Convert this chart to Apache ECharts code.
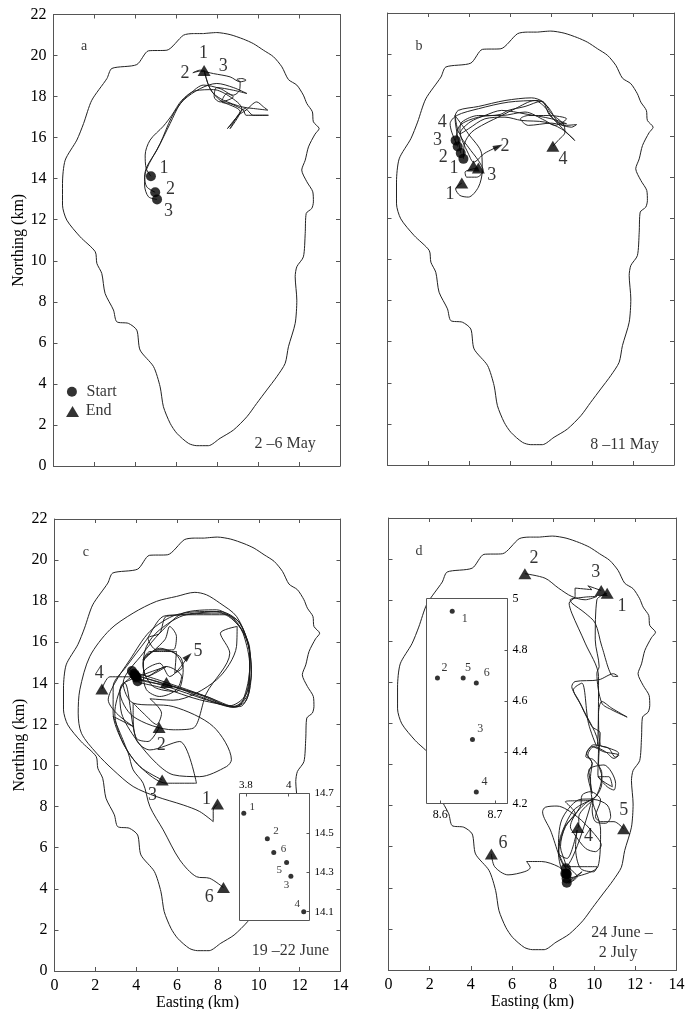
<!DOCTYPE html>
<html><head><meta charset="utf-8">
<style>html,body{margin:0;padding:0;background:#fff}#c{width:686px;height:1009px}</style>
<script src="https://cdn.jsdelivr.net/npm/echarts@6/dist/echarts.min.js"></script>
</head><body><div id="c"></div>
<script>
const outline=[[7.33,21.07],[7.98,21.12],[8.63,21.02],[9.28,20.80],[9.77,20.58],[10.26,20.26],[10.75,19.94],[11.16,19.45],[11.48,18.83],[11.89,18.56],[12.21,18.07],[12.38,17.66],[12.65,17.26],[12.70,16.77],[12.98,16.44],[12.78,16.17],[12.46,15.55],[12.30,14.90],[12.13,14.42],[12.38,13.85],[12.67,13.36],[12.70,12.87],[12.62,12.55],[12.35,12.31],[12.30,11.33],[12.21,10.19],[11.89,9.71],[11.81,9.22],[11.89,8.08],[11.81,6.95],[11.48,5.81],[11.32,5.0],[10.91,4.35],[10.42,3.70],[9.93,3.05],[9.45,2.40],[8.79,1.75],[8.14,1.35],[7.57,0.99],[7.0,0.99],[6.60,1.10],[6.03,1.59],[5.70,2.08],[5.37,2.89],[5.21,3.86],[4.89,4.84],[4.23,5.65],[4.07,6.62],[3.66,6.95],[3.09,7.03],[2.93,7.60],[2.52,8.41],[2.36,9.38],[2.12,9.87],[2.04,10.44],[1.30,11.17],[0.65,11.98],[0.44,12.71],[0.44,13.77],[0.57,14.90],[1.14,15.88],[1.47,16.69],[1.87,17.82],[2.61,18.88],[2.85,19.37],[4.07,19.56],[4.64,20.23],[5.54,20.26],[6.35,20.99],[6.84,21.07],[7.33,21.07]];

const a1=[[4.76,14.12],[4.53,14.50],[4.48,15.15],[4.72,15.88],[5.37,16.56],[5.78,17.09],[6.27,17.82],[6.92,18.28],[7.82,18.34],[8.63,17.99],[9.20,17.42],[8.79,16.77],[8.50,16.44],[9.04,17.09],[9.41,17.34],[9.93,17.74],[10.26,17.50],[10.47,17.34],[9.77,17.42],[9.20,17.50],[8.31,17.82],[7.82,18.15],[7.57,18.56],[7.36,19.27]];
const a2=[[4.97,13.34],[4.56,13.60],[4.45,14.09],[4.56,14.58],[5.05,15.39],[5.70,16.69],[6.19,17.66],[6.68,18.15],[7.33,18.56],[8.14,18.39],[8.79,18.07],[9.09,18.31],[9.12,18.72],[8.96,18.83],[9.20,18.88],[9.41,18.80],[9.12,18.72],[8.63,18.96],[7.82,19.12],[7.17,19.24],[6.81,19.16],[7.17,19.29],[7.36,19.27]];
const a3=[[5.06,12.99],[4.64,13.12],[4.45,13.69],[4.53,14.42],[5.21,15.71],[5.78,17.01],[6.35,17.82],[7.17,18.39],[7.98,18.64],[8.79,18.44],[9.45,18.15],[8.79,18.31],[7.98,18.44],[7.85,17.99],[8.14,17.74],[8.79,17.99],[8.47,18.15],[8.22,17.74],[8.63,17.66],[9.28,17.34],[9.41,17.09],[10.50,17.09],[9.77,17.09],[9.36,17.42],[8.63,16.44],[9.12,17.26],[8.14,17.82],[7.65,18.39],[7.36,19.27]];
const aStarts=[[4.76,14.12],[4.97,13.34],[5.06,12.99],[0.90,3.62]];
const aEnds=[[7.36,19.27],[0.93,2.65]];
const aLabels=[[1.5,20.45,"a",14],[7.33,20.13,"1",18],[8.3,19.5,"3",18],[6.43,19.12,"2",18],[5.4,14.53,"1",18],[5.72,13.49,"2",18],[5.62,12.39,"3",18],[2.35,3.6,"Start",16],[2.2,2.68,"End",16],[11.32,1.07,"2 –6 May",16]];

const b1=[[3.71,14.90],[3.76,15.63],[4.11,16.20],[4.76,16.61],[5.58,17.01],[6.23,17.34],[7.20,17.74],[7.69,17.42],[8.10,16.85],[9.15,15.80],[8.50,16.36],[7.69,16.69],[6.55,16.77],[5.74,16.93],[4.76,16.85],[3.95,16.36],[3.54,16.12],[3.30,17.01],[3.95,16.12],[4.60,15.15],[4.63,14.33],[4.44,13.52],[3.95,13.04],[3.54,13.12],[3.33,13.44],[3.63,13.72]];
const b2=[[3.58,15.18],[3.46,15.80],[3.30,16.93],[3.46,17.26],[4.44,17.45],[5.74,17.74],[7.04,17.87],[7.61,17.66],[7.93,17.01],[8.67,16.53],[9.24,16.57],[8.99,16.44],[8.02,16.64],[6.88,16.53],[6.50,16.85],[6.88,17.01],[7.85,17.01],[8.75,16.85],[8.18,16.53],[7.69,16.77],[6.72,17.18],[5.58,17.01],[4.44,17.01],[3.63,16.69],[3.54,16.28],[4.03,14.98],[4.20,14.74],[4.76,15.18],[5.41,15.50]];
const b3=[[3.43,15.50],[3.14,16.20],[3.06,16.61],[3.38,17.01],[4.44,17.34],[5.90,17.66],[7.37,17.74],[7.85,17.42],[8.34,16.69],[8.75,16.61],[8.02,16.85],[6.72,17.09],[5.58,17.26],[4.76,17.01],[4.03,16.69],[3.54,16.12],[3.95,15.47],[4.44,14.82],[4.68,14.33],[4.36,14.01],[3.87,14.01],[3.79,14.25],[4.20,14.42],[4.44,14.45]];
const b4=[[3.33,15.80],[3.54,16.53],[4.44,16.93],[5.50,17.06],[5.90,17.26],[6.72,17.45],[7.53,17.71],[8.02,17.09],[8.59,16.61],[8.67,16.20],[8.34,15.80],[8.08,15.52]];
const bStarts=[[3.33,15.80],[3.43,15.50],[3.58,15.18],[3.71,14.90]];
const bEnds=[[3.63,13.72],[4.44,14.45],[4.20,14.55],[8.08,15.52]];
const bArrows=[[5.41,15.50,-65]];
const bLabels=[[1.54,20.39,"b",14],[2.67,16.66,"4",18],[2.44,15.80,"3",18],[2.73,14.98,"2",18],[3.25,14.42,"1",18],[3.06,13.17,"1",18],[5.74,15.50,"2",18],[5.09,14.09,"3",18],[8.57,14.90,"4",18],[11.59,0.99,"8 –11 May",16]];

const c1=[[3.72,14.66],[4.18,14.17],[5.81,13.85],[7.11,13.36],[8.58,12.91],[9.31,13.36],[9.64,14.50],[9.48,15.96],[8.91,17.26],[8.09,17.91],[7.44,18.31],[6.87,18.43],[5.97,18.23],[4.99,17.99],[3.85,17.42],[2.71,16.61],[1.73,15.31],[1.24,13.69],[1.16,12.55],[1.32,11.57],[2.06,10.60],[2.87,9.79],[3.85,8.98],[4.99,8.49],[6.30,8.08],[7.11,7.76],[7.77,7.27],[7.77,7.84],[7.98,8.13]];
const c2=[[3.93,14.42],[5.48,13.93],[7.11,13.44],[8.74,12.87],[9.23,13.20],[9.56,14.82],[9.23,16.44],[8.74,17.09],[8.09,17.42],[6.46,17.34],[5.15,16.61],[4.50,15.80],[4.34,14.82],[4.83,13.85],[5.97,13.60],[6.30,14.66],[5.89,15.47],[5.15,15.63],[4.34,15.15],[4.50,14.33],[5.48,14.82],[3.36,14.01],[3.20,13.60],[3.85,12.39],[5.81,11.74],[6.79,11.82],[7.44,13.52],[8.58,15.47],[8.12,16.44],[8.94,16.77],[8.91,15.80],[7.93,14.17],[5.81,13.18],[4.67,13.25],[5.24,12.55],[5.0,12.0],[4.4,12.5],[3.85,13.04],[3.85,12.39],[4.01,11.33],[4.58,11.17],[5.12,11.85]];
const c3=[[4.01,14.25],[5.48,13.85],[7.44,13.20],[8.74,12.84],[9.48,13.52],[9.56,15.31],[9.07,16.93],[8.09,17.50],[6.13,17.34],[5.32,17.26],[4.50,16.12],[3.52,14.82],[2.87,13.85],[2.87,12.55],[3.36,11.09],[4.18,9.95],[5.27,9.30]];
const c4=[[4.11,14.04],[5.32,13.77],[7.11,13.20],[9.07,12.87],[9.56,13.85],[9.56,15.63],[8.99,16.85],[7.93,17.58],[6.30,17.42],[5.15,16.44],[4.34,15.47],[3.36,14.01],[3.85,13.04],[5.81,12.87],[7.77,11.90],[8.66,10.28],[8.42,9.95],[7.11,9.46],[5.81,9.55],[4.99,10.11],[4.01,11.25],[3.28,12.55],[3.20,13.60],[3.44,14.01],[4.01,11.25],[4.67,10.76],[6.13,11.17],[6.95,9.14],[5.48,9.14],[4.18,9.95],[3.36,11.09],[2.95,12.55],[3.28,13.85],[3.77,14.32],[2.71,14.32],[2.32,13.73]];
const c5=[[3.85,14.42],[5.32,14.01],[7.44,13.36],[8.91,12.84],[9.48,13.85],[9.56,15.47],[9.07,16.77],[8.42,17.34],[6.95,17.34],[5.48,17.26],[5.15,16.44],[4.58,16.20],[4.99,15.63],[5.81,15.63],[5.97,16.28],[5.64,16.77],[5.40,16.12],[4.34,15.15],[4.67,15.55],[5.97,15.55],[5.89,14.50],[6.30,14.82],[6.13,15.31],[5.15,15.71],[4.34,14.98],[4.50,14.33],[5.48,14.82],[6.22,14.33],[5.97,13.69],[5.15,13.36],[4.50,13.69],[4.34,14.50],[5.15,14.98],[5.64,14.33],[6.54,15.31]];
const c6=[[3.77,14.58],[5.48,14.04],[7.44,13.36],[8.74,12.84],[9.40,13.20],[9.64,14.66],[9.07,16.93],[7.77,17.50],[5.97,17.34],[4.67,16.53],[3.69,15.15],[2.95,14.01],[2.63,13.20],[3.03,12.55],[3.85,11.90],[2.87,12.39],[3.61,10.60],[3.85,9.79],[4.34,9.14],[4.67,8.00],[5.32,6.87],[6.13,5.41],[6.95,4.59],[7.60,4.51],[8.27,4.06]];
const cStarts=[[3.79,14.60],[3.90,14.47],[3.93,14.40],[3.99,14.35],[4.01,14.28],[4.07,14.10]];
const cEnds=[[7.98,8.13],[5.12,11.85],[5.27,9.30],[2.32,13.73],[5.48,14.04],[8.27,4.06]];
const cArrows=[[6.54,15.31,-45]];
const cLabels=[[1.53,20.39,"c",14],[7.44,8.38,"1",18],[5.22,11.0,"2",18],[4.8,8.54,"3",18],[2.19,14.5,"4",18],[7.03,15.55,"5",18],[7.57,3.59,"6",18],[11.55,0.99,"19 –22 June",16]];
const cInsetLabels=[[3.83,14.63,"1",11],[3.94,14.51,"2",11],[3.975,14.42,"6",11],[3.956,14.31,"5",11],[3.99,14.235,"3",11],[4.04,14.14,"4",11]];
const cInsetX=[3.8,4], cInsetY=[14.7,14.5,14.3,14.1];

const d1=[[8.622,4.95],[8.26,5.84],[8.42,7.31],[9.23,8.28],[9.97,8.36],[10.37,9.09],[10.37,9.58],[9.97,10.23],[9.59,10.39],[9.97,10.96],[10.70,10.80],[11.19,10.55],[11.03,10.36],[10.70,10.80],[10.29,10.96],[10.21,12.50],[10.37,13.07],[10.86,12.74],[11.60,12.31],[10.86,12.66],[10.37,12.99],[10.13,14.45],[10.24,14.77],[10.05,16.07],[10.13,18.02],[10.63,18.34]];
const d2=[[8.595,4.69],[8.42,4.87],[8.26,5.68],[8.58,6.98],[9.07,7.63],[8.60,8.19],[9.89,8.28],[10.37,9.42],[10.21,10.06],[10.29,11.53],[9.89,11.85],[9.23,13.15],[8.91,13.80],[9.07,14.04],[10.21,14.12],[10.94,14.42],[11.16,14.29],[10.94,14.29],[10.37,15.75],[10.05,16.88],[9.56,17.37],[8.91,17.86],[8.83,18.02],[9.56,18.15],[10.13,18.18],[9.56,18.02],[8.91,18.18],[8.26,18.59],[7.61,19.07],[6.63,19.29]];
const d3=[[8.659,4.45],[10.18,5.03],[10.31,6.81],[9.90,8.27],[9.82,9.41],[9.90,10.06],[9.62,10.54],[9.90,10.87],[10.47,10.62],[11.20,10.46],[10.96,10.30],[10.55,10.62],[9.98,10.87],[9.69,10.46],[9.90,10.06],[9.69,9.49],[9.90,8.60],[9.74,9.73],[10.47,9.98],[11.04,9.08],[10.96,8.76],[10.63,8.92],[10.18,9.41],[10.71,9.41],[10.88,8.92],[10.18,9.49],[10.21,10.88],[9.40,12.82],[8.99,13.64],[9.40,13.96],[9.72,12.01],[10.13,10.88],[10.21,14.29],[9.56,15.91],[8.91,17.37],[8.78,17.86],[9.07,18.18],[9.07,18.59],[9.89,18.51],[9.69,18.70],[10.34,18.47]];
const d4=[[8.666,4.245],[9.41,4.78],[8.76,4.22],[9.17,4.54],[8.68,5.03],[10.14,5.03],[9.98,4.78],[9.33,4.95],[9.09,6.00],[9.17,6.81],[8.68,5.43],[8.28,5.68],[8.36,6.49],[9.01,7.79],[9.90,8.30],[8.60,5.03],[7.87,6.81],[7.49,7.70],[7.62,7.92],[8.19,7.98],[9.17,7.46],[9.98,6.65],[10.34,6.08],[10.06,5.76],[9.58,5.92],[9.01,6.65],[8.84,6.97],[9.25,7.79],[9.98,8.30],[10.63,8.03],[10.80,7.46],[10.55,7.14],[10.06,7.22],[9.90,7.79],[9.95,8.27],[9.25,7.46],[9.25,6.97],[9.20,6.93]];
const d5=[[8.642,4.69],[8.60,5.19],[8.36,6.00],[8.60,6.97],[9.33,7.95],[9.41,8.51],[9.82,8.68],[10.31,8.27],[10.06,7.46],[10.31,7.22],[10.96,7.22],[11.43,6.87]];
const d6=[[8.666,4.67],[8.26,5.03],[7.44,5.28],[6.71,5.28],[6.89,4.98],[6.63,4.79],[5.81,4.63],[5.16,5.03],[5.00,5.65]];
const dStarts=[[8.622,4.95],[8.595,4.69],[8.642,4.69],[8.666,4.67],[8.659,4.45],[8.666,4.245]];
const dEnds=[[10.63,18.34],[10.34,18.47],[6.63,19.29],[9.20,6.93],[11.43,6.87],[5.00,5.65]];
const dLabels=[[1.48,20.37,"d",14],[7.07,20.03,"2",18],[10.08,19.37,"3",18],[11.35,17.69,"1",18],[11.43,7.76,"5",18],[9.72,6.53,"4",18],[5.57,6.17,"6",18],[11.35,1.79,"24 June –",16],[11.16,0.84,"2 July",16],[12.75,-0.7,"·",16]];
const dInsetLabels=[[8.645,4.92,"1",12],[8.608,4.73,"2",12],[8.651,4.73,"5",12],[8.685,4.71,"6",12],[8.673,4.49,"3",12],[8.681,4.285,"4",12]];
const dInsetX=[8.6,8.7], dInsetY=[5,4.8,4.6,4.4,4.2];

const FONT='"Liberation Serif"', INK='#000', FRAME='#555';
const grids=[],xAxes=[],yAxes=[],series=[];
function axisBase(extra){return Object.assign({type:'value',silent:true,splitLine:{show:false},
  axisLine:{onZero:false,show:true,lineStyle:{color:FRAME,width:1}},
  axisTick:{show:true,inside:true,length:4,lineStyle:{color:FRAME,width:1}},
  axisLabel:{show:false,fontFamily:FONT,fontSize:16,color:INK,margin:7}},extra);}

function panel(g,opt){
  const i=grids.length; grids.push(Object.assign({outerBoundsMode:'none'},g));
  xAxes.push(axisBase({gridIndex:i,position:'bottom',min:0,max:14,interval:2,
    name:opt.xName||'',nameLocation:'middle',nameGap:24,nameTextStyle:{fontFamily:FONT,fontSize:16,color:INK},
    axisLabel:{show:!!opt.xLabels,fontFamily:FONT,fontSize:16,color:INK,margin:7,hideOverlap:false,showMinLabel:true,showMaxLabel:true}}));
  xAxes.push(axisBase({gridIndex:i,position:'top',min:0,max:14,interval:2}));
  yAxes.push(axisBase({gridIndex:i,position:'left',min:0,max:22,interval:2,
    name:opt.yName||'',nameLocation:'middle',nameGap:26,nameTextStyle:{fontFamily:FONT,fontSize:16,color:INK},
    axisLabel:{show:!!opt.yLabels,fontFamily:FONT,fontSize:16,color:INK,margin:7,hideOverlap:false,showMinLabel:true,showMaxLabel:true}}));
  yAxes.push(axisBase({gridIndex:i,position:'right',min:0,max:22,interval:2}));
  const xi=xAxes.length-2, yi=yAxes.length-2;
  const line=(d,w)=>series.push({type:'line',xAxisIndex:xi,yAxisIndex:yi,data:d,showSymbol:false,symbol:'none',smooth:0.3,silent:true,clip:false,lineStyle:{color:'#1a1a1a',width:w},z:2});
  series.push({type:'line',xAxisIndex:xi,yAxisIndex:yi,data:outline,showSymbol:false,symbol:'none',smooth:0.25,silent:true,lineStyle:{color:'#222',width:1},z:1});
  opt.tracks.forEach(t=>line(t,0.95));
  series.push({type:'scatter',xAxisIndex:xi,yAxisIndex:yi,data:opt.starts,symbol:'circle',symbolSize:10,silent:true,itemStyle:{color:'#000'},z:4});
  series.push({type:'scatter',xAxisIndex:xi,yAxisIndex:yi,data:opt.ends,symbol:'triangle',symbolSize:[13,11],silent:true,itemStyle:{color:'#000'},z:4});
  if(opt.arrows)series.push({type:'scatter',xAxisIndex:xi,yAxisIndex:yi,silent:true,symbol:'triangle',symbolSize:[6,10],itemStyle:{color:'#000'},z:4,
    data:opt.arrows.map(a=>({value:[a[0],a[1]],symbolRotate:a[2]}))});
  series.push(labelSeries(opt.labels,xi,yi,5));
}
function labelSeries(list,xi,yi,z){
  return {type:'scatter',xAxisIndex:xi,yAxisIndex:yi,silent:true,symbolSize:1,clip:false,itemStyle:{color:'rgba(0,0,0,0)'},z:z,
    data:list.map(l=>({value:[l[0],l[1]],label:{show:true,position:'inside',formatter:l[2],fontFamily:FONT,fontSize:l[3],color:INK,textBorderWidth:0,textBorderColor:'transparent'}}))};
}
function inset(g,o){
  const i=grids.length;
  grids.push(Object.assign({outerBoundsMode:'none',show:true,backgroundColor:'#fff',borderColor:FRAME,borderWidth:1,z:10},g));
  const tick=(v)=>({show:true,inside:true,length:3,customValues:v,lineStyle:{color:FRAME}});
  const lab=(v,size,m)=>({show:true,customValues:v,fontFamily:FONT,fontSize:size,color:INK,margin:m,formatter:x=>String(x)});
  xAxes.push(axisBase({gridIndex:i,position:o.xPos,min:o.xMin,max:o.xMax,z:11,axisLine:{show:false,onZero:false},axisTick:tick(o.xVals),axisLabel:lab(o.xVals,o.size,o.xPos==='top'?3:5)}));
  yAxes.push(axisBase({gridIndex:i,position:'right',min:o.yMin,max:o.yMax,z:11,axisLine:{show:false,onZero:false},axisTick:tick(o.yVals),axisLabel:lab(o.yVals,o.size,5)}));
  const xi=xAxes.length-1, yi=yAxes.length-1;
  series.push({type:'scatter',xAxisIndex:xi,yAxisIndex:yi,data:o.points,symbol:'circle',symbolSize:5,silent:true,itemStyle:{color:'#000'},z:12});
  series.push(labelSeries(o.labels,xi,yi,13));
}

panel({left:53.5,top:14.5,width:286.5,height:451.5},{yName:'Northing (km)',yLabels:true,tracks:[a1,a2,a3],starts:aStarts,ends:aEnds,labels:aLabels});
panel({left:387.5,top:13,width:286.5,height:452},{tracks:[b1,b2,b3,b4],starts:bStarts,ends:bEnds,arrows:bArrows,labels:bLabels});
panel({left:54.5,top:519,width:286,height:452},{yName:'Northing (km)',yLabels:true,xLabels:true,xName:'Easting (km)',tracks:[c1,c2,c3,c4,c5,c6],starts:cStarts,ends:cEnds,arrows:cArrows,labels:cLabels});
panel({left:388.5,top:518,width:288,height:452},{xLabels:true,xName:'Easting (km)',tracks:[d1,d2,d3,d4,d5,d6],starts:dStarts,ends:dEnds,labels:dLabels});
inset({left:239.5,top:793.5,width:70,height:127},{xPos:'top',xMin:3.77,xMax:4.097,yMin:14.055,yMax:14.7,xVals:cInsetX,yVals:cInsetY,size:11,points:cStarts,labels:cInsetLabels});
inset({left:426.5,top:598.5,width:81,height:205},{xPos:'bottom',xMin:8.575,xMax:8.723,yMin:4.2,yMax:5,xVals:dInsetX,yVals:dInsetY,size:12,points:dStarts,labels:dInsetLabels});

const chart=echarts.init(document.getElementById('c'),null,{renderer:'canvas'});
chart.setOption({animation:false,backgroundColor:'#fff',tooltip:{show:false},grid:grids,xAxis:xAxes,yAxis:yAxes,series:series});
</script></body></html>
